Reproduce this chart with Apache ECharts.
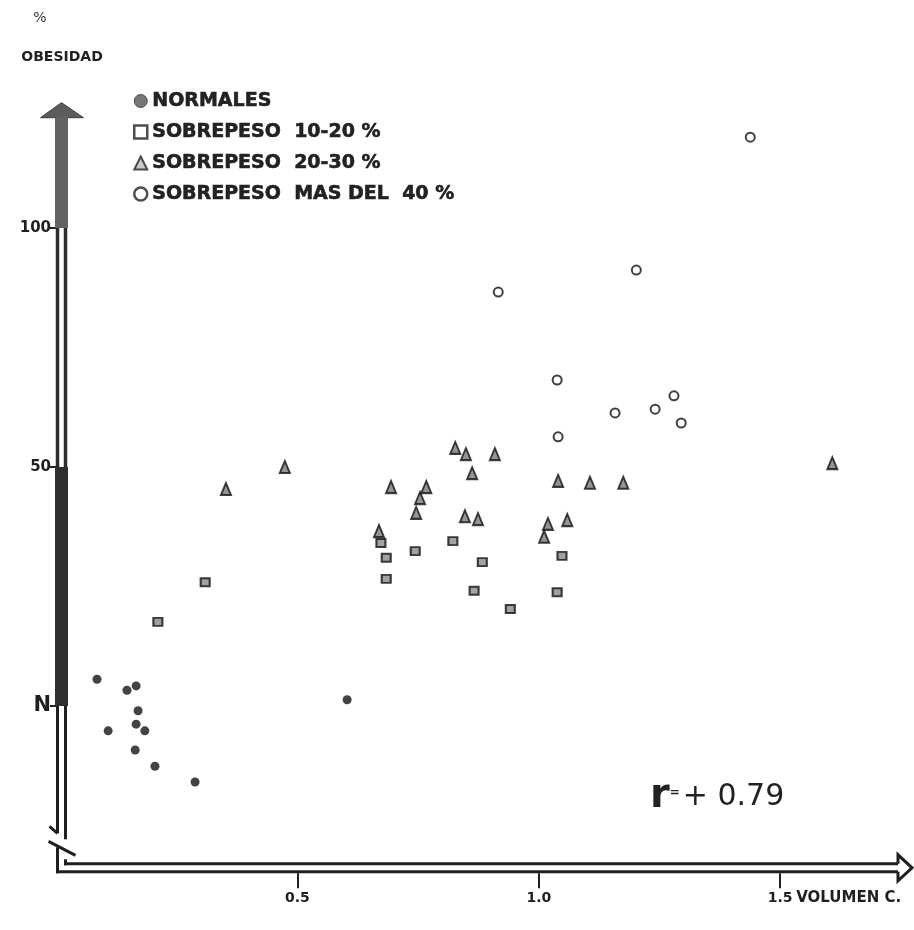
<!DOCTYPE html>
<html><head><meta charset="utf-8">
<script src="https://cdn.jsdelivr.net/npm/echarts@6/dist/echarts.min.js"></script>
<style>html,body{margin:0;padding:0;background:#fff}#c{width:914px;height:930px}</style>
</head><body><div id="c"></div>
<script>
// ---- data (volumen x, % obesidad y; N = 0) ----
const seriesNames = ['NORMALES', 'SOBREPESO  10-20 %', 'SOBREPESO  20-30 %', 'SOBREPESO  MAS DEL  40 %'];
const normalesX = [0.085, 0.147, 0.166, 0.170, 0.166, 0.108, 0.184, 0.164, 0.205, 0.288, 0.603];
const normalesY = [5.6, 3.3, 4.2, -1.0, -3.8, -5.2, -5.2, -9.2, -12.6, -15.9, 1.3];
const sob1020X = [0.211, 0.309, 0.673, 0.684, 0.684, 0.744, 0.822, 0.883, 0.866, 0.941, 1.048, 1.038];
const sob1020Y = [17.6, 25.9, 34.1, 31.0, 26.6, 32.4, 34.5, 30.1, 24.1, 20.3, 31.4, 23.8];
const sob2030X = [0.352, 0.474, 0.669, 0.694, 0.746, 0.754, 0.767, 0.827, 0.849, 0.862, 0.847, 0.874, 0.909, 1.011, 1.019, 1.059, 1.040, 1.106, 1.175, 1.608];
const sob2030Y = [45.4, 50.0, 36.6, 45.8, 40.4, 43.5, 45.8, 54.0, 52.7, 48.7, 39.7, 39.1, 52.7, 35.4, 38.1, 38.9, 47.1, 46.7, 46.7, 50.8];
const sob40X = [1.438, 1.202, 0.916, 1.038, 1.158, 1.241, 1.280, 1.295, 1.040];
const sob40Y = [119.0, 91.2, 86.6, 68.2, 61.3, 62.1, 64.9, 59.2, 56.3];
const xTicks = [0.5, 1.0, 1.5];
const yTicks = [0, 50, 100];
const yTickLabels = {0: 'N', 50: '50', 100: '100'};
const xAxisName = 'VOLUMEN C.';
const yAxisName = 'OBESIDAD';
const yUnit = '%';
const corrText = '+ 0.79';

const X_MIN = 0, X_MAX = 1.773, Y_MIN = -35, Y_MAX = 126;
const zip = (xs, ys) => xs.map((x, i) => [x, ys[i]]);
const INK = '#1f1f1f';
const FONT = 'DejaVu Sans';

const chart = echarts.init(document.getElementById('c'));
chart.setOption({
  animation: false,
  backgroundColor: '#fff',
  grid: {left: 56, right: 2, top: 103.7, bottom: 56.7},
  xAxis: {
    type: 'value', min: X_MIN, max: X_MAX,
    axisLine: {show: false, onZero: false}, splitLine: {show: false},
    axisTick: {show: true, customValues: xTicks, length: 15, lineStyle: {color: INK, width: 2}},
    axisLabel: {customValues: xTicks, formatter: v => v.toFixed(1), margin: 18,
      fontSize: 14, fontWeight: 'bold', color: INK, fontFamily: FONT}
  },
  yAxis: {
    type: 'value', min: Y_MIN, max: Y_MAX,
    axisLine: {show: false, onZero: false}, splitLine: {show: false},
    axisTick: {show: true, customValues: yTicks, length: 6, lineStyle: {color: INK, width: 2}},
    axisLabel: {customValues: yTicks, margin: 5,
      formatter: v => v === 0 ? '{n|' + yTickLabels[v] + '}' : yTickLabels[v],
      fontSize: 15, fontWeight: 'bold', color: INK, fontFamily: FONT,
      rich: {n: {fontSize: 21, fontWeight: 'bold', color: INK, fontFamily: FONT}}}
  },
  legend: {
    orient: 'vertical', left: 128, top: 86, itemGap: 11, itemWidth: 13, itemHeight: 13,
    selectedMode: false,
    textStyle: {fontSize: 19, fontWeight: 'bold', color: '#222', fontFamily: FONT, lineHeight: 20,
      textBorderColor: '#222', textBorderWidth: 0.6},
    data: [
      {name: seriesNames[0], icon: 'circle', itemStyle: {color: '#555', borderColor: '#333', borderWidth: 1}},
      {name: seriesNames[1], icon: 'rect', itemStyle: {color: '#fff', borderColor: '#222', borderWidth: 2.5}},
      {name: seriesNames[2], icon: 'triangle', itemStyle: {color: '#bbb', borderColor: '#222', borderWidth: 2}},
      {name: seriesNames[3], icon: 'circle', itemStyle: {color: '#fff', borderColor: '#222', borderWidth: 2.5}}
    ]
  },
  series: [
    {name: seriesNames[0], type: 'scatter', data: zip(normalesX, normalesY), symbol: 'circle', symbolSize: 9,
     itemStyle: {color: '#141414'}, emphasis: {disabled: true}},
    {name: seriesNames[1], type: 'scatter', data: zip(sob1020X, sob1020Y), symbol: 'rect', symbolSize: [9, 8],
     itemStyle: {color: '#8a8a8a', borderColor: '#111', borderWidth: 2}, emphasis: {disabled: true}},
    {name: seriesNames[2], type: 'scatter', data: zip(sob2030X, sob2030Y), symbol: 'triangle', symbolSize: [10, 12],
     itemStyle: {color: '#7a7a7a', borderColor: '#111', borderWidth: 2}, emphasis: {disabled: true}},
    {name: seriesNames[3], type: 'scatter', data: zip(sob40X, sob40Y), symbol: 'circle', symbolSize: 9,
     itemStyle: {color: '#fff', borderColor: '#111', borderWidth: 2}, emphasis: {disabled: true}}
  ]
});

// ---- decorative axes anchored to the scales ----
const P = (x, y) => chart.convertToPixel({gridIndex: 0}, [x, y]);
const xL = P(X_MIN, 0)[0];
const xR = P(X_MAX, 0)[0];
const yTop = P(0, Y_MAX)[1];
const yBot = P(0, Y_MIN)[1];
const y100 = P(0, 100)[1], y50 = P(0, 50)[1], y0 = P(0, 0)[1];
const x15 = P(1.5, 0)[0];

const xo = xL + 1.5, xi = xL + 9.5;       // y-axis outer/inner line centres
const yLo = yBot - 1.5, yUp = yBot - 9.5;  // x-axis lower/upper line centres
const yMid = (yLo + yUp) / 2;
const xc = (xo + xi) / 2;
const headBack = xR - 14;
const brk1 = yBot - 40, brk2 = yBot - 28;

const line = (x1, y1, x2, y2, w, c) => ({type: 'line', shape: {x1, y1, x2, y2},
  style: {stroke: c || INK, lineWidth: w || 3}, silent: true, z: 1});
const rect = (x, y, w, h, c) => ({type: 'rect', shape: {x, y, width: w, height: h},
  style: {fill: c}, silent: true, z: 1});

const g = [
  // arrow head (grey, top)
  {type: 'polygon', shape: {points: [[xc - 21, yTop + 14], [xc, yTop - 1], [xc + 22, yTop + 14]]},
   style: {fill: '#5c5c5c', stroke: '#3a3a3a', lineWidth: 1}, silent: true, z: 1},
  rect(xL - 1, yTop + 13, 13, y100 - yTop - 13, '#626262'),
  // hollow 100 -> 50
  line(xo, y100, xo, y50, 3.5, '#2c2c2c'), line(xi, y100, xi, y50, 3.5, '#2c2c2c'),
  // dark 50 -> N
  rect(xL - 1, y50, 13, y0 - y50, '#2f2f2f'),
  // hollow N -> break
  line(xo, y0, xo, brk1, 3), line(xi, y0, xi, brk1 + 6, 3),
  line(xo, brk1, xo - 8, brk1 - 7, 3),
  // break stroke
  line(xo - 9, brk2 - 4, xi + 10, brk2 + 10, 3),
  // below break
  line(xo, brk2 + 2, xo, yLo + 1.5, 3), line(xi, brk2 + 14, xi, yUp + 1.5, 3),
  // x axis double line
  line(xo - 1.5, yLo, headBack, yLo, 3), line(xi - 1.5, yUp, headBack, yUp, 3),
  {type: 'polyline', shape: {points: [[headBack, yUp], [headBack, yMid - 13], [xR, yMid], [headBack, yMid + 13], [headBack, yLo]]},
   style: {stroke: INK, lineWidth: 3, fill: null}, silent: true, z: 1},
  // axis texts
  {type: 'text', x: x15 + 16, y: yBot + 25, style: {text: xAxisName, fill: INK,
    font: 'bold 15px "' + FONT + '"', textAlign: 'left', textVerticalAlign: 'middle'}, silent: true},
  {type: 'text', x: 40, y: 18, style: {text: yUnit, fill: '#333',
    font: '14px "' + FONT + '"', textAlign: 'center', textVerticalAlign: 'middle'}, silent: true},
  {type: 'text', x: 62, y: 57, style: {text: yAxisName, fill: '#222',
    font: 'bold 14px "' + FONT + '"', textAlign: 'center', textVerticalAlign: 'middle'}, silent: true},
  // correlation coefficient
  {type: 'text', x: 650, y: 797, style: {
    text: '{r|r}{e|=}{t|' + corrText + '}', textVerticalAlign: 'middle', textAlign: 'left',
    rich: {
      r: {fontSize: 40, fontWeight: 'bold', fontFamily: FONT, fill: '#222'},
      e: {fontSize: 12, fontWeight: 'bold', fontFamily: FONT, fill: '#222', padding: [0, 3, 8, 0]},
      t: {fontSize: 30, fontFamily: FONT, fill: '#222'}
    }}, silent: true}
];
chart.setOption({graphic: g});
</script>
</body></html>
